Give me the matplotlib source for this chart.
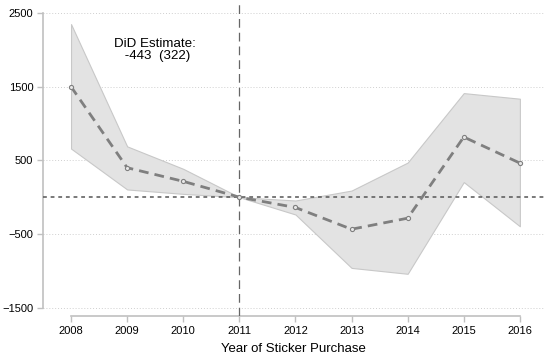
import matplotlib
matplotlib.use("Agg")
import matplotlib.pyplot as plt

plt.rcParams['font.family'] = ['Liberation Sans', 'DejaVu Sans']

years = [2008, 2009, 2010, 2011, 2012, 2013, 2014, 2015, 2016]
estimate = [1500, 400, 215, 0, -140, -435, -285, 817, 463]
ci_upper = [2350, 690, 385, 0, -45, 90, 470, 1413, 1337]
ci_lower = [660, 105, 45, 0, -235, -960, -1040, 205, -395]
y_ticks = [2500, 1500, 500, -500, -1500]
did_text = "DiD Estimate:\n -443  (322)"
treat_year = 2011

W, H = 544, 358
fig = plt.figure(figsize=(W / 100, H / 100), dpi=100)
ax = fig.add_axes([43 / W, (H - 316) / H, (W - 43) / W, 316 / H])

ax.fill_between(years, ci_lower, ci_upper, facecolor='#e3e3e3',
                edgecolor='#c8c8c8', linewidth=0.8, zorder=2)
for y in y_ticks:
    ax.axhline(y, color='#cfcfcf', linewidth=0.7, linestyle=(0, (1, 2)), zorder=1)
ax.axhline(0, color='#555555', linewidth=1.1, linestyle=(0, (2.5, 2.5)), zorder=3)
ax.axvline(treat_year, color='#666666', linewidth=0.9, linestyle=(0, (7, 4)), zorder=3)
ax.plot(years, estimate, color='#7f7f7f', linewidth=2.0, linestyle=(0, (3.5, 2.2)),
        marker='o', markersize=3.0, markerfacecolor='#e8e8e8', markeredgecolor='#7f7f7f',
        markeredgewidth=0.8, zorder=4)

ax.text(2009.5, 1995, did_text, ha='center', va='center', fontsize=9.6, linespacing=0.95)

ax.set_xlim(2007.5, 2016.43)
ax.set_ylim(-1613, 2677)
ax.set_xticks(years)
ax.set_yticks(y_ticks)
ax.tick_params(axis='both', direction='out', length=4, width=1, color='#c0c0c0',
               labelsize=8, pad=3)
for side in ['top', 'right']:
    ax.spines[side].set_visible(False)
ax.spines['left'].set_bounds(-1500, 2500)
ax.spines['bottom'].set_bounds(2008, 2016)
for side in ['left', 'bottom']:
    ax.spines[side].set_color('#c0c0c0')
    ax.spines[side].set_linewidth(1.2)
ax.set_xlabel("Year of Sticker Purchase", fontsize=9.5, labelpad=5)

fig.savefig("out.png", dpi=100)
